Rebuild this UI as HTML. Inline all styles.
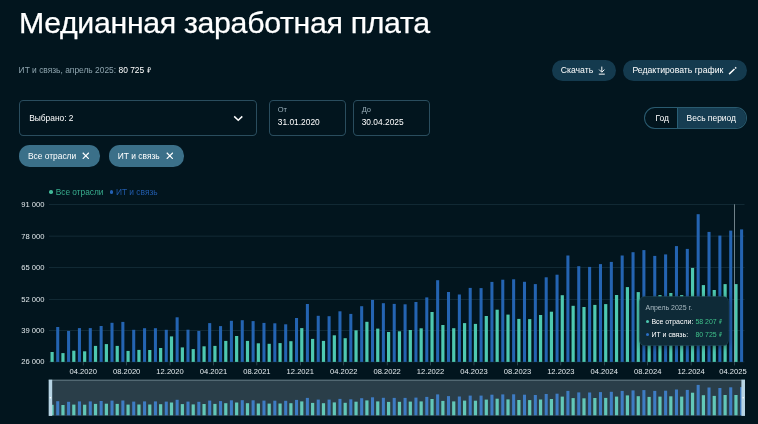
<!DOCTYPE html>
<html lang="ru"><head><meta charset="utf-8"><title>Медианная заработная плата</title>
<style>
*{box-sizing:border-box;margin:0;padding:0}
html,body{width:758px;height:424px;overflow:hidden;background:#02151e;}
body{font-family:"Liberation Sans",sans-serif;color:#fff;position:relative;-webkit-font-smoothing:antialiased}
.abs{position:absolute}
h1{position:absolute;left:18.9px;top:6.1px;font-size:30.3px;font-weight:400;line-height:34px;white-space:nowrap;letter-spacing:-0.325px;-webkit-text-stroke:0.25px #fff}
.sub{position:absolute;left:18.6px;top:65.2px;font-size:8.42px;line-height:10px;color:#8ea4ae;white-space:nowrap}
.sub b{font-weight:400;color:#fff}
.rub{display:inline-block;width:0.5em;height:0.7em;vertical-align:-0.02em;margin-left:0.05em}
.btn{position:absolute;top:59.5px;height:21.2px;border-radius:10.6px;background:#143a4e;font-size:8.68px;line-height:21.8px;white-space:nowrap;color:#fff}
.box{position:absolute;top:100.1px;height:35.5px;border:0.7px solid #2a4d5e;border-radius:4.4px}
.lab{position:absolute;left:7.9px;top:4.7px;font-size:7.5px;line-height:8px;color:#9db2bc}
.val{position:absolute;left:7.9px;top:16.3px;font-size:8.38px;line-height:10px;color:#fff;white-space:nowrap}
.chip{position:absolute;top:145.4px;height:21.2px;border-radius:10.6px;background:#3b7089;font-size:8.42px;line-height:22.4px;white-space:nowrap;color:#fff;padding-left:8.9px}
.leg{position:absolute;top:186.8px;font-size:8.32px;line-height:10px;white-space:nowrap}
.xl{position:absolute;top:367px;width:40px;text-align:center;font-size:7.58px;line-height:10px;color:#e2e9ec;white-space:nowrap}
.yl{position:absolute;left:0;width:44.4px;text-align:right;font-size:7.58px;line-height:10px;color:#e2e9ec;white-space:nowrap}
svg.chart{position:absolute;left:0;top:0;width:758px;height:424px}
.tip{position:absolute;left:640.1px;top:296.6px;width:88px;height:48.3px;border-radius:4.5px;background:#0e2a37;box-shadow:0 0 0 0.7px #1c404e,0 1px 6px rgba(0,0,0,.45)}
.tip div{position:absolute;white-space:nowrap;font-size:6.98px;line-height:10px}
.tip .rub{vertical-align:0.04em}
.dot{position:absolute;width:3.4px;height:3.4px;border-radius:50%}
#o{position:absolute;left:0;top:0;width:1200px;height:672px;will-change:transform;transform:scale(0.631667);transform-origin:0 0}
#w{position:absolute;left:0;top:0;width:758px;height:424.5px;transform:scale(1.583113);transform-origin:0 0}
</style></head><body><div id="o"><div id="w">
<h1>Медианная заработная плата</h1>
<div class="sub">ИТ и связь, апрель 2025: <b>80 725 <svg class="rub" viewBox="0 0 10 14"><path d="M3.2 14V1.2h2.7a2.9 2.9 0 0 1 0 5.8H0.8M0.8 10.4h5.4" fill="none" stroke="currentColor" stroke-width="1.8"/></svg></b></div>

<div class="btn" style="left:551.9px;width:64.6px;padding-left:8.8px">Скачать
<svg class="abs" style="left:45.4px;top:6.0px;width:9.6px;height:9.6px" viewBox="0 0 16 16"><path d="M8 1v8.6M3.6 6L8 10.4 12.4 6M3 13.6h10" fill="none" stroke="#fff" stroke-width="1.6"/></svg></div>
<div class="btn" style="left:623.4px;width:123.5px;padding-left:9px">Редактировать график
<svg class="abs" style="left:104px;top:5px;width:12px;height:12px" viewBox="0 0 12 12"><path d="M2.1 9.1L7.5 4M8.2 3.35L9.2 2.4" fill="none" stroke="#fff" stroke-width="1.45"/></svg></div>

<div class="box" style="left:19.3px;width:237.6px"><div class="val" style="left:8.9px;top:11.6px">Выбрано: 2</div>
<svg class="abs" style="left:213.1px;top:14px;width:10.5px;height:7px" viewBox="0 0 10.5 7"><path d="M1.2 1.4L5.25 5.3 9.3 1.4" fill="none" stroke="#fff" stroke-width="1.5"/></svg></div>
<div class="box" style="left:268.9px;width:76.9px"><div class="lab">От</div><div class="val">31.01.2020</div></div>
<div class="box" style="left:352.8px;width:77px"><div class="lab">До</div><div class="val">30.04.2025</div></div>

<div class="abs" style="left:644px;top:106.8px;width:103px;height:21.8px;border-radius:10.9px;border:0.7px solid #2a5b70;overflow:hidden;font-size:8.45px;line-height:20.8px">
<div class="abs" style="left:32.4px;top:-1px;width:72px;height:23px;background:#163d52;border-left:0.7px solid #2a5f76"></div>
<div class="abs" style="left:10.6px;top:0">Год</div><div class="abs" style="left:41.6px;top:0;white-space:nowrap">Весь период</div></div>

<div class="chip" style="left:19px;width:80.7px">Все отрасли<svg class="abs" style="left:62.9px;top:6.5px;width:7.6px;height:7.6px" viewBox="0 0 10 10"><path d="M1 1l8 8M9 1l-8 8" stroke="#fff" stroke-width="1.55" fill="none"/></svg></div>
<div class="chip" style="left:108.9px;width:74.8px">ИТ и связь<svg class="abs" style="left:56.9px;top:6.5px;width:7.6px;height:7.6px" viewBox="0 0 10 10"><path d="M1 1l8 8M9 1l-8 8" stroke="#fff" stroke-width="1.55" fill="none"/></svg></div>

<div class="dot" style="left:49.2px;top:190.2px;background:#41b898;width:3.4px;height:3.4px"></div>
<div class="leg" style="left:55.7px;color:#38ad8e">Все отрасли</div>
<div class="dot" style="left:109.9px;top:190.2px;background:#2461b4;width:3.4px;height:3.4px"></div>
<div class="leg" style="left:115.9px;color:#215bab;font-size:8.4px">ИТ и связь</div>

<svg class="chart" viewBox="0 0 758 424">
<rect x="49" y="204.28" width="695.5" height="0.64" fill="#1c3643"/><rect x="49" y="235.78" width="695.5" height="0.64" fill="#1c3643"/><rect x="49" y="267.18" width="695.5" height="0.64" fill="#1c3643"/><rect x="49" y="299.18" width="695.5" height="0.64" fill="#1c3643"/><rect x="49" y="330.08" width="695.5" height="0.64" fill="#1c3643"/><rect x="49" y="361.58" width="695.5" height="0.64" fill="#1c3643"/><rect x="82.92" y="361.9" width="0.6" height="3.5" fill="#48656f"/><rect x="126.33" y="361.9" width="0.6" height="3.5" fill="#48656f"/><rect x="169.75" y="361.9" width="0.6" height="3.5" fill="#48656f"/><rect x="213.18" y="361.9" width="0.6" height="3.5" fill="#48656f"/><rect x="256.59" y="361.9" width="0.6" height="3.5" fill="#48656f"/><rect x="300.01" y="361.9" width="0.6" height="3.5" fill="#48656f"/><rect x="343.44" y="361.9" width="0.6" height="3.5" fill="#48656f"/><rect x="386.85" y="361.9" width="0.6" height="3.5" fill="#48656f"/><rect x="430.27" y="361.9" width="0.6" height="3.5" fill="#48656f"/><rect x="473.69" y="361.9" width="0.6" height="3.5" fill="#48656f"/><rect x="517.12" y="361.9" width="0.6" height="3.5" fill="#48656f"/><rect x="560.54" y="361.9" width="0.6" height="3.5" fill="#48656f"/><rect x="603.96" y="361.9" width="0.6" height="3.5" fill="#48656f"/><rect x="647.38" y="361.9" width="0.6" height="3.5" fill="#48656f"/><rect x="690.80" y="361.9" width="0.6" height="3.5" fill="#48656f"/><rect x="734.22" y="361.9" width="0.6" height="3.5" fill="#48656f"/><rect x="50.50" y="352.0" width="3.2" height="9.9" fill="#4ec9b0"/><rect x="56.20" y="327.0" width="3.05" height="34.9" fill="#2464b2"/><rect x="61.36" y="353.1" width="3.2" height="8.8" fill="#4ec9b0"/><rect x="67.06" y="330.9" width="3.05" height="31.0" fill="#2464b2"/><rect x="72.21" y="350.7" width="3.2" height="11.2" fill="#4ec9b0"/><rect x="77.91" y="328.1" width="3.05" height="33.8" fill="#2464b2"/><rect x="83.06" y="351.3" width="3.2" height="10.6" fill="#4ec9b0"/><rect x="88.77" y="328.1" width="3.05" height="33.8" fill="#2464b2"/><rect x="93.92" y="345.9" width="3.2" height="16.0" fill="#4ec9b0"/><rect x="99.62" y="326.0" width="3.05" height="35.9" fill="#2464b2"/><rect x="104.78" y="344.1" width="3.2" height="17.8" fill="#4ec9b0"/><rect x="110.48" y="322.8" width="3.05" height="39.1" fill="#2464b2"/><rect x="115.63" y="345.9" width="3.2" height="16.0" fill="#4ec9b0"/><rect x="121.33" y="321.9" width="3.05" height="40.0" fill="#2464b2"/><rect x="126.48" y="350.9" width="3.2" height="11.0" fill="#4ec9b0"/><rect x="132.19" y="329.8" width="3.05" height="32.1" fill="#2464b2"/><rect x="137.34" y="349.9" width="3.2" height="12.0" fill="#4ec9b0"/><rect x="143.04" y="328.2" width="3.05" height="33.7" fill="#2464b2"/><rect x="148.19" y="350.0" width="3.2" height="11.9" fill="#4ec9b0"/><rect x="153.90" y="328.2" width="3.05" height="33.7" fill="#2464b2"/><rect x="159.05" y="348.0" width="3.2" height="13.9" fill="#4ec9b0"/><rect x="164.75" y="329.8" width="3.05" height="32.1" fill="#2464b2"/><rect x="169.91" y="336.4" width="3.2" height="25.5" fill="#4ec9b0"/><rect x="175.61" y="317.3" width="3.05" height="44.6" fill="#2464b2"/><rect x="180.76" y="347.4" width="3.2" height="14.5" fill="#4ec9b0"/><rect x="186.46" y="329.7" width="3.05" height="32.2" fill="#2464b2"/><rect x="191.62" y="349.1" width="3.2" height="12.8" fill="#4ec9b0"/><rect x="197.31" y="330.9" width="3.05" height="31.0" fill="#2464b2"/><rect x="202.47" y="346.3" width="3.2" height="15.6" fill="#4ec9b0"/><rect x="208.17" y="323.1" width="3.05" height="38.8" fill="#2464b2"/><rect x="213.33" y="345.9" width="3.2" height="16.0" fill="#4ec9b0"/><rect x="219.03" y="326.1" width="3.05" height="35.8" fill="#2464b2"/><rect x="224.18" y="340.9" width="3.2" height="21.0" fill="#4ec9b0"/><rect x="229.88" y="320.8" width="3.05" height="41.1" fill="#2464b2"/><rect x="235.03" y="336.0" width="3.2" height="25.9" fill="#4ec9b0"/><rect x="240.74" y="320.2" width="3.05" height="41.7" fill="#2464b2"/><rect x="245.89" y="340.9" width="3.2" height="21.0" fill="#4ec9b0"/><rect x="251.59" y="321.1" width="3.05" height="40.8" fill="#2464b2"/><rect x="256.75" y="343.3" width="3.2" height="18.6" fill="#4ec9b0"/><rect x="262.44" y="322.9" width="3.05" height="39.0" fill="#2464b2"/><rect x="267.60" y="343.8" width="3.2" height="18.1" fill="#4ec9b0"/><rect x="273.30" y="323.3" width="3.05" height="38.6" fill="#2464b2"/><rect x="278.46" y="343.1" width="3.2" height="18.8" fill="#4ec9b0"/><rect x="284.16" y="324.3" width="3.05" height="37.6" fill="#2464b2"/><rect x="289.31" y="341.2" width="3.2" height="20.7" fill="#4ec9b0"/><rect x="295.01" y="318.0" width="3.05" height="43.9" fill="#2464b2"/><rect x="300.17" y="328.1" width="3.2" height="33.8" fill="#4ec9b0"/><rect x="305.87" y="304.0" width="3.05" height="57.9" fill="#2464b2"/><rect x="311.02" y="338.9" width="3.2" height="23.0" fill="#4ec9b0"/><rect x="316.72" y="315.8" width="3.05" height="46.1" fill="#2464b2"/><rect x="321.88" y="340.9" width="3.2" height="21.0" fill="#4ec9b0"/><rect x="327.57" y="316.2" width="3.05" height="45.7" fill="#2464b2"/><rect x="332.73" y="335.3" width="3.2" height="26.6" fill="#4ec9b0"/><rect x="338.43" y="311.3" width="3.05" height="50.6" fill="#2464b2"/><rect x="343.59" y="338.2" width="3.2" height="23.7" fill="#4ec9b0"/><rect x="349.29" y="313.9" width="3.05" height="48.0" fill="#2464b2"/><rect x="354.44" y="330.3" width="3.2" height="31.6" fill="#4ec9b0"/><rect x="360.14" y="306.2" width="3.05" height="55.7" fill="#2464b2"/><rect x="365.30" y="321.8" width="3.2" height="40.1" fill="#4ec9b0"/><rect x="371.00" y="299.9" width="3.05" height="62.0" fill="#2464b2"/><rect x="376.15" y="328.6" width="3.2" height="33.3" fill="#4ec9b0"/><rect x="381.85" y="303.2" width="3.05" height="58.7" fill="#2464b2"/><rect x="387.00" y="332.0" width="3.2" height="29.9" fill="#4ec9b0"/><rect x="392.70" y="303.9" width="3.05" height="58.0" fill="#2464b2"/><rect x="397.86" y="331.3" width="3.2" height="30.6" fill="#4ec9b0"/><rect x="403.56" y="304.3" width="3.05" height="57.6" fill="#2464b2"/><rect x="408.72" y="330.0" width="3.2" height="31.9" fill="#4ec9b0"/><rect x="414.42" y="302.0" width="3.05" height="59.9" fill="#2464b2"/><rect x="419.57" y="328.3" width="3.2" height="33.6" fill="#4ec9b0"/><rect x="425.27" y="297.4" width="3.05" height="64.5" fill="#2464b2"/><rect x="430.43" y="312.0" width="3.2" height="49.9" fill="#4ec9b0"/><rect x="436.12" y="280.2" width="3.05" height="81.7" fill="#2464b2"/><rect x="441.28" y="325.0" width="3.2" height="36.9" fill="#4ec9b0"/><rect x="446.98" y="292.0" width="3.05" height="69.9" fill="#2464b2"/><rect x="452.13" y="328.2" width="3.2" height="33.7" fill="#4ec9b0"/><rect x="457.83" y="294.5" width="3.05" height="67.4" fill="#2464b2"/><rect x="462.99" y="323.1" width="3.2" height="38.8" fill="#4ec9b0"/><rect x="468.69" y="287.9" width="3.05" height="74.0" fill="#2464b2"/><rect x="473.85" y="323.9" width="3.2" height="38.0" fill="#4ec9b0"/><rect x="479.55" y="288.1" width="3.05" height="73.8" fill="#2464b2"/><rect x="484.70" y="316.0" width="3.2" height="45.9" fill="#4ec9b0"/><rect x="490.40" y="281.9" width="3.05" height="80.0" fill="#2464b2"/><rect x="495.56" y="309.7" width="3.2" height="52.2" fill="#4ec9b0"/><rect x="501.25" y="279.7" width="3.05" height="82.2" fill="#2464b2"/><rect x="506.41" y="314.6" width="3.2" height="47.3" fill="#4ec9b0"/><rect x="512.11" y="279.3" width="3.05" height="82.6" fill="#2464b2"/><rect x="517.27" y="318.9" width="3.2" height="43.0" fill="#4ec9b0"/><rect x="522.97" y="281.8" width="3.05" height="80.1" fill="#2464b2"/><rect x="528.12" y="319.1" width="3.2" height="42.8" fill="#4ec9b0"/><rect x="533.82" y="284.1" width="3.05" height="77.8" fill="#2464b2"/><rect x="538.98" y="315.0" width="3.2" height="46.9" fill="#4ec9b0"/><rect x="544.68" y="277.3" width="3.05" height="84.6" fill="#2464b2"/><rect x="549.83" y="311.7" width="3.2" height="50.2" fill="#4ec9b0"/><rect x="555.53" y="274.7" width="3.05" height="87.2" fill="#2464b2"/><rect x="560.68" y="295.2" width="3.2" height="66.7" fill="#4ec9b0"/><rect x="566.38" y="255.5" width="3.05" height="106.4" fill="#2464b2"/><rect x="571.54" y="305.8" width="3.2" height="56.1" fill="#4ec9b0"/><rect x="577.24" y="266.2" width="3.05" height="95.7" fill="#2464b2"/><rect x="582.39" y="307.0" width="3.2" height="54.9" fill="#4ec9b0"/><rect x="588.10" y="266.9" width="3.05" height="95.0" fill="#2464b2"/><rect x="593.25" y="304.9" width="3.2" height="57.0" fill="#4ec9b0"/><rect x="598.95" y="264.1" width="3.05" height="97.8" fill="#2464b2"/><rect x="604.11" y="304.1" width="3.2" height="57.8" fill="#4ec9b0"/><rect x="609.81" y="261.9" width="3.05" height="100.0" fill="#2464b2"/><rect x="614.96" y="295.0" width="3.2" height="66.9" fill="#4ec9b0"/><rect x="620.66" y="255.5" width="3.05" height="106.4" fill="#2464b2"/><rect x="625.82" y="287.1" width="3.2" height="74.8" fill="#4ec9b0"/><rect x="631.52" y="252.2" width="3.05" height="109.7" fill="#2464b2"/><rect x="636.67" y="292.1" width="3.2" height="69.8" fill="#4ec9b0"/><rect x="642.37" y="250.1" width="3.05" height="111.8" fill="#2464b2"/><rect x="647.52" y="297.5" width="3.2" height="64.4" fill="#4ec9b0"/><rect x="653.23" y="255.9" width="3.05" height="106.0" fill="#2464b2"/><rect x="658.38" y="295.0" width="3.2" height="66.9" fill="#4ec9b0"/><rect x="664.08" y="254.4" width="3.05" height="107.5" fill="#2464b2"/><rect x="669.24" y="293.0" width="3.2" height="68.9" fill="#4ec9b0"/><rect x="674.94" y="246.1" width="3.05" height="115.8" fill="#2464b2"/><rect x="680.09" y="295.0" width="3.2" height="66.9" fill="#4ec9b0"/><rect x="685.79" y="248.9" width="3.05" height="113.0" fill="#2464b2"/><rect x="690.95" y="267.9" width="3.2" height="94.0" fill="#4ec9b0"/><rect x="696.65" y="214.2" width="3.05" height="147.7" fill="#2464b2"/><rect x="701.80" y="285.1" width="3.2" height="76.8" fill="#4ec9b0"/><rect x="707.50" y="231.9" width="3.05" height="130.0" fill="#2464b2"/><rect x="712.65" y="290.0" width="3.2" height="71.9" fill="#4ec9b0"/><rect x="718.36" y="235.6" width="3.05" height="126.3" fill="#2464b2"/><rect x="723.51" y="284.1" width="3.2" height="77.8" fill="#4ec9b0"/><rect x="729.21" y="230.6" width="3.05" height="131.3" fill="#2464b2"/><rect x="734.37" y="284.1" width="3.2" height="77.8" fill="#4ec9b0"/><rect x="740.07" y="229.4" width="3.05" height="132.5" fill="#2464b2"/><rect x="734.2" y="204.3" width="0.7" height="157.6" fill="#9fb0b8"/>
<rect x="48.7" y="380.0" width="696.3" height="35.89999999999998" fill="#2a3e49"/><rect x="50.50" y="404.8" width="3.2" height="10.5" fill="#62c8b8"/><rect x="56.20" y="401.2" width="3.05" height="14.1" fill="#3e7cc4"/><rect x="61.36" y="405.0" width="3.2" height="10.3" fill="#62c8b8"/><rect x="67.06" y="401.8" width="3.05" height="13.5" fill="#3e7cc4"/><rect x="72.21" y="404.6" width="3.2" height="10.7" fill="#62c8b8"/><rect x="77.91" y="401.4" width="3.05" height="13.9" fill="#3e7cc4"/><rect x="83.06" y="404.7" width="3.2" height="10.6" fill="#62c8b8"/><rect x="88.77" y="401.4" width="3.05" height="13.9" fill="#3e7cc4"/><rect x="93.92" y="403.9" width="3.2" height="11.4" fill="#62c8b8"/><rect x="99.62" y="401.0" width="3.05" height="14.3" fill="#3e7cc4"/><rect x="104.78" y="403.7" width="3.2" height="11.6" fill="#62c8b8"/><rect x="110.48" y="400.6" width="3.05" height="14.7" fill="#3e7cc4"/><rect x="115.63" y="403.9" width="3.2" height="11.4" fill="#62c8b8"/><rect x="121.33" y="400.5" width="3.05" height="14.8" fill="#3e7cc4"/><rect x="126.48" y="404.6" width="3.2" height="10.7" fill="#62c8b8"/><rect x="132.19" y="401.6" width="3.05" height="13.7" fill="#3e7cc4"/><rect x="137.34" y="404.5" width="3.2" height="10.8" fill="#62c8b8"/><rect x="143.04" y="401.4" width="3.05" height="13.9" fill="#3e7cc4"/><rect x="148.19" y="404.5" width="3.2" height="10.8" fill="#62c8b8"/><rect x="153.90" y="401.4" width="3.05" height="13.9" fill="#3e7cc4"/><rect x="159.05" y="404.2" width="3.2" height="11.1" fill="#62c8b8"/><rect x="164.75" y="401.6" width="3.05" height="13.7" fill="#3e7cc4"/><rect x="169.91" y="402.5" width="3.2" height="12.8" fill="#62c8b8"/><rect x="175.61" y="399.8" width="3.05" height="15.5" fill="#3e7cc4"/><rect x="180.76" y="404.1" width="3.2" height="11.2" fill="#62c8b8"/><rect x="186.46" y="401.6" width="3.05" height="13.7" fill="#3e7cc4"/><rect x="191.62" y="404.4" width="3.2" height="10.9" fill="#62c8b8"/><rect x="197.31" y="401.8" width="3.05" height="13.5" fill="#3e7cc4"/><rect x="202.47" y="404.0" width="3.2" height="11.3" fill="#62c8b8"/><rect x="208.17" y="400.6" width="3.05" height="14.7" fill="#3e7cc4"/><rect x="213.33" y="403.9" width="3.2" height="11.4" fill="#62c8b8"/><rect x="219.03" y="401.1" width="3.05" height="14.2" fill="#3e7cc4"/><rect x="224.18" y="403.2" width="3.2" height="12.1" fill="#62c8b8"/><rect x="229.88" y="400.3" width="3.05" height="15.0" fill="#3e7cc4"/><rect x="235.03" y="402.5" width="3.2" height="12.8" fill="#62c8b8"/><rect x="240.74" y="400.2" width="3.05" height="15.1" fill="#3e7cc4"/><rect x="245.89" y="403.2" width="3.2" height="12.1" fill="#62c8b8"/><rect x="251.59" y="400.3" width="3.05" height="15.0" fill="#3e7cc4"/><rect x="256.75" y="403.5" width="3.2" height="11.8" fill="#62c8b8"/><rect x="262.44" y="400.6" width="3.05" height="14.7" fill="#3e7cc4"/><rect x="267.60" y="403.6" width="3.2" height="11.7" fill="#62c8b8"/><rect x="273.30" y="400.7" width="3.05" height="14.6" fill="#3e7cc4"/><rect x="278.46" y="403.5" width="3.2" height="11.8" fill="#62c8b8"/><rect x="284.16" y="400.8" width="3.05" height="14.5" fill="#3e7cc4"/><rect x="289.31" y="403.2" width="3.2" height="12.1" fill="#62c8b8"/><rect x="295.01" y="399.9" width="3.05" height="15.4" fill="#3e7cc4"/><rect x="300.17" y="401.4" width="3.2" height="13.9" fill="#62c8b8"/><rect x="305.87" y="397.9" width="3.05" height="17.4" fill="#3e7cc4"/><rect x="311.02" y="402.9" width="3.2" height="12.4" fill="#62c8b8"/><rect x="316.72" y="399.6" width="3.05" height="15.7" fill="#3e7cc4"/><rect x="321.88" y="403.2" width="3.2" height="12.1" fill="#62c8b8"/><rect x="327.57" y="399.6" width="3.05" height="15.7" fill="#3e7cc4"/><rect x="332.73" y="402.4" width="3.2" height="12.9" fill="#62c8b8"/><rect x="338.43" y="398.9" width="3.05" height="16.4" fill="#3e7cc4"/><rect x="343.59" y="402.8" width="3.2" height="12.5" fill="#62c8b8"/><rect x="349.29" y="399.3" width="3.05" height="16.0" fill="#3e7cc4"/><rect x="354.44" y="401.7" width="3.2" height="13.6" fill="#62c8b8"/><rect x="360.14" y="398.2" width="3.05" height="17.1" fill="#3e7cc4"/><rect x="365.30" y="400.4" width="3.2" height="14.9" fill="#62c8b8"/><rect x="371.00" y="397.3" width="3.05" height="18.0" fill="#3e7cc4"/><rect x="376.15" y="401.4" width="3.2" height="13.9" fill="#62c8b8"/><rect x="381.85" y="397.8" width="3.05" height="17.5" fill="#3e7cc4"/><rect x="387.00" y="401.9" width="3.2" height="13.4" fill="#62c8b8"/><rect x="392.70" y="397.9" width="3.05" height="17.4" fill="#3e7cc4"/><rect x="397.86" y="401.8" width="3.2" height="13.5" fill="#62c8b8"/><rect x="403.56" y="397.9" width="3.05" height="17.4" fill="#3e7cc4"/><rect x="408.72" y="401.6" width="3.2" height="13.7" fill="#62c8b8"/><rect x="414.42" y="397.6" width="3.05" height="17.7" fill="#3e7cc4"/><rect x="419.57" y="401.4" width="3.2" height="13.9" fill="#62c8b8"/><rect x="425.27" y="396.9" width="3.05" height="18.4" fill="#3e7cc4"/><rect x="430.43" y="399.0" width="3.2" height="16.3" fill="#62c8b8"/><rect x="436.12" y="394.4" width="3.05" height="20.9" fill="#3e7cc4"/><rect x="441.28" y="400.9" width="3.2" height="14.4" fill="#62c8b8"/><rect x="446.98" y="396.1" width="3.05" height="19.2" fill="#3e7cc4"/><rect x="452.13" y="401.4" width="3.2" height="13.9" fill="#62c8b8"/><rect x="457.83" y="396.5" width="3.05" height="18.8" fill="#3e7cc4"/><rect x="462.99" y="400.6" width="3.2" height="14.7" fill="#62c8b8"/><rect x="468.69" y="395.6" width="3.05" height="19.7" fill="#3e7cc4"/><rect x="473.85" y="400.7" width="3.2" height="14.6" fill="#62c8b8"/><rect x="479.55" y="395.6" width="3.05" height="19.7" fill="#3e7cc4"/><rect x="484.70" y="399.6" width="3.2" height="15.7" fill="#62c8b8"/><rect x="490.40" y="394.7" width="3.05" height="20.6" fill="#3e7cc4"/><rect x="495.56" y="398.7" width="3.2" height="16.6" fill="#62c8b8"/><rect x="501.25" y="394.4" width="3.05" height="20.9" fill="#3e7cc4"/><rect x="506.41" y="399.4" width="3.2" height="15.9" fill="#62c8b8"/><rect x="512.11" y="394.3" width="3.05" height="21.0" fill="#3e7cc4"/><rect x="517.27" y="400.0" width="3.2" height="15.3" fill="#62c8b8"/><rect x="522.97" y="394.7" width="3.05" height="20.6" fill="#3e7cc4"/><rect x="528.12" y="400.1" width="3.2" height="15.2" fill="#62c8b8"/><rect x="533.82" y="395.0" width="3.05" height="20.3" fill="#3e7cc4"/><rect x="538.98" y="399.5" width="3.2" height="15.8" fill="#62c8b8"/><rect x="544.68" y="394.0" width="3.05" height="21.3" fill="#3e7cc4"/><rect x="549.83" y="399.0" width="3.2" height="16.3" fill="#62c8b8"/><rect x="555.53" y="393.7" width="3.05" height="21.6" fill="#3e7cc4"/><rect x="560.68" y="396.6" width="3.2" height="18.7" fill="#62c8b8"/><rect x="566.38" y="390.9" width="3.05" height="24.4" fill="#3e7cc4"/><rect x="571.54" y="398.1" width="3.2" height="17.2" fill="#62c8b8"/><rect x="577.24" y="392.4" width="3.05" height="22.9" fill="#3e7cc4"/><rect x="582.39" y="398.3" width="3.2" height="17.0" fill="#62c8b8"/><rect x="588.10" y="392.5" width="3.05" height="22.8" fill="#3e7cc4"/><rect x="593.25" y="398.0" width="3.2" height="17.3" fill="#62c8b8"/><rect x="598.95" y="392.1" width="3.05" height="23.2" fill="#3e7cc4"/><rect x="604.11" y="397.9" width="3.2" height="17.4" fill="#62c8b8"/><rect x="609.81" y="391.8" width="3.05" height="23.5" fill="#3e7cc4"/><rect x="614.96" y="396.6" width="3.2" height="18.7" fill="#62c8b8"/><rect x="620.66" y="390.9" width="3.05" height="24.4" fill="#3e7cc4"/><rect x="625.82" y="395.4" width="3.2" height="19.9" fill="#62c8b8"/><rect x="631.52" y="390.4" width="3.05" height="24.9" fill="#3e7cc4"/><rect x="636.67" y="396.2" width="3.2" height="19.1" fill="#62c8b8"/><rect x="642.37" y="390.1" width="3.05" height="25.2" fill="#3e7cc4"/><rect x="647.52" y="396.9" width="3.2" height="18.4" fill="#62c8b8"/><rect x="653.23" y="390.9" width="3.05" height="24.4" fill="#3e7cc4"/><rect x="658.38" y="396.6" width="3.2" height="18.7" fill="#62c8b8"/><rect x="664.08" y="390.7" width="3.05" height="24.6" fill="#3e7cc4"/><rect x="669.24" y="396.3" width="3.2" height="19.0" fill="#62c8b8"/><rect x="674.94" y="389.5" width="3.05" height="25.8" fill="#3e7cc4"/><rect x="680.09" y="396.6" width="3.2" height="18.7" fill="#62c8b8"/><rect x="685.79" y="389.9" width="3.05" height="25.4" fill="#3e7cc4"/><rect x="690.95" y="392.7" width="3.2" height="22.6" fill="#62c8b8"/><rect x="696.65" y="384.9" width="3.05" height="30.4" fill="#3e7cc4"/><rect x="701.80" y="395.2" width="3.2" height="20.1" fill="#62c8b8"/><rect x="707.50" y="387.5" width="3.05" height="27.8" fill="#3e7cc4"/><rect x="712.65" y="395.9" width="3.2" height="19.4" fill="#62c8b8"/><rect x="718.36" y="388.0" width="3.05" height="27.3" fill="#3e7cc4"/><rect x="723.51" y="395.0" width="3.2" height="20.3" fill="#62c8b8"/><rect x="729.21" y="387.3" width="3.05" height="28.0" fill="#3e7cc4"/><rect x="734.37" y="395.0" width="3.2" height="20.3" fill="#62c8b8"/><rect x="740.07" y="387.1" width="3.05" height="28.2" fill="#3e7cc4"/><rect x="48.7" y="379.7" width="696.3" height="0.8" fill="#7b919b"/><rect x="48.7" y="415.5" width="696.3" height="0.5" fill="#34495400"/><rect x="48.7" y="379.7" width="3.5" height="36.199999999999974" fill="#b7d4e4"/><rect x="741.4" y="379.7" width="3.6" height="36.199999999999974" fill="#b7d4e4"/><circle cx="50.4" cy="397.8" r="0.8" fill="#fff"/><circle cx="743.2" cy="397.8" r="0.8" fill="#fff"/>
</svg>
<div class="yl" style="top:200.00px">91 000</div><div class="yl" style="top:231.50px">78 000</div><div class="yl" style="top:262.90px">65 000</div><div class="yl" style="top:294.90px">52 000</div><div class="yl" style="top:325.80px">39 000</div><div class="yl" style="top:357.30px">26 000</div>
<div class="xl" style="left:63.22px">04.2020</div><div class="xl" style="left:106.63px">08.2020</div><div class="xl" style="left:150.06px">12.2020</div><div class="xl" style="left:193.48px">04.2021</div><div class="xl" style="left:236.89px">08.2021</div><div class="xl" style="left:280.31px">12.2021</div><div class="xl" style="left:323.74px">04.2022</div><div class="xl" style="left:367.15px">08.2022</div><div class="xl" style="left:410.57px">12.2022</div><div class="xl" style="left:454.00px">04.2023</div><div class="xl" style="left:497.42px">08.2023</div><div class="xl" style="left:540.84px">12.2023</div><div class="xl" style="left:584.25px">04.2024</div><div class="xl" style="left:627.67px">08.2024</div><div class="xl" style="left:671.10px">12.2024</div><div class="xl" style="left:712.91px">04.2025</div>

<div class="tip">
<div style="left:5.4px;top:6.4px;color:#a9bac2">Апрель 2025 г.</div>
<span class="dot" style="left:5.7px;top:23.8px;background:#4ec9b0;width:3px;height:3px"></span>
<div style="left:11.3px;top:20.7px;color:#fff">Все отрасли:</div><div style="left:55.3px;top:20.7px;color:#3fc08a">58 207 <svg class="rub" viewBox="0 0 10 14"><path d="M3.2 14V1.2h2.7a2.9 2.9 0 0 1 0 5.8H0.8M0.8 10.4h5.4" fill="none" stroke="currentColor" stroke-width="1.8"/></svg></div>
<span class="dot" style="left:5.7px;top:36.8px;background:#2a6fc4;width:3px;height:3px"></span>
<div style="left:11.3px;top:33.7px;color:#fff">ИТ и связь:</div><div style="left:55.3px;top:33.7px;color:#3fc08a">80 725 <svg class="rub" viewBox="0 0 10 14"><path d="M3.2 14V1.2h2.7a2.9 2.9 0 0 1 0 5.8H0.8M0.8 10.4h5.4" fill="none" stroke="currentColor" stroke-width="1.8"/></svg></div>
</div>
</div></div></body></html>
